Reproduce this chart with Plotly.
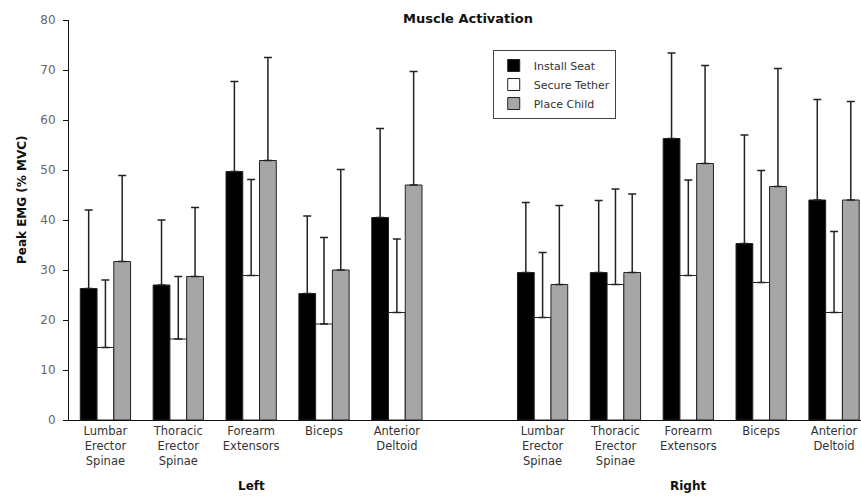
import plotly.graph_objects as go

categories = ["Lumbar<br>Erector<br>Spinae", "Thoracic<br>Erector<br>Spinae", "Forearm<br>Extensors", "Biceps", "Anterior<br>Deltoid"]
sides = ["Left", "Right"]
positions = [0, 1, 2, 3, 4, 6, 7, 8, 9, 10]
tick_labels = categories + categories

series_names = ["Install Seat", "Secure Tether", "Place Child"]
install_seat = [26.3, 27.0, 49.7, 25.3, 40.5, 29.5, 29.5, 56.3, 35.3, 44.0]
install_seat_top = [42.0, 40.0, 67.7, 40.8, 58.3, 43.5, 43.9, 73.4, 57.0, 64.1]
secure_tether = [14.5, 16.2, 28.9, 19.2, 21.5, 20.5, 27.1, 28.9, 27.5, 21.5]
secure_tether_top = [28.0, 28.7, 48.1, 36.5, 36.2, 33.5, 46.2, 48.0, 49.9, 37.7]
place_child = [31.7, 28.7, 51.9, 30.0, 47.0, 27.1, 29.5, 51.3, 46.7, 44.0]
place_child_top = [48.9, 42.5, 72.5, 50.1, 69.7, 42.9, 45.2, 70.9, 70.3, 63.7]

colors = ["#000000", "#ffffff", "#a6a6a6"]
FONT = "DejaVu Sans"

fig = go.Figure()
for name, vals, tops, col in zip(series_names,
                                 [install_seat, secure_tether, place_child],
                                 [install_seat_top, secure_tether_top, place_child_top],
                                 colors):
    fig.add_trace(go.Bar(
        name=name, x=positions, y=vals,
        marker=dict(color=col, line=dict(color="#222222", width=1)),
        error_y=dict(type="data", symmetric=False,
                     array=[t - v for t, v in zip(tops, vals)],
                     arrayminus=[0] * len(vals),
                     color="#222222", thickness=1.5, width=4),
    ))

fig.update_layout(
    width=861, height=498, autosize=False,
    margin=dict(l=69, r=0, t=20, b=78),
    paper_bgcolor="white", plot_bgcolor="white",
    barmode="group", bargap=0.31, bargroupgap=0,
    font=dict(family=FONT, size=11, color="#333333"),
    title=dict(text="<b>Muscle Activation</b>", x=468 / 861,
               xanchor="center", y=1 - 18 / 498, yanchor="middle", yref="container",
               font=dict(family=FONT, size=13, color="#111111")),
    legend=dict(x=0.535, y=0.925, xanchor="left", yanchor="top",
                bgcolor="white", bordercolor="#444444", borderwidth=1,
                font=dict(family=FONT, size=11, color="#333333"),
                itemwidth=30, tracegroupgap=0),
    showlegend=True,
)

fig.update_xaxes(range=[-0.5, 10.37], tickvals=positions, ticktext=tick_labels,
                 showline=True, linecolor="#111111", linewidth=1, ticks="",
                 showgrid=False, zeroline=False,
                 tickfont=dict(family=FONT, size=11.5, color="#333333"))
fig.update_yaxes(range=[0, 80], dtick=10, showline=True, linecolor="#111111", linewidth=1,
                 ticks="outside", ticklen=5, tickcolor="#111111", ticklabelstandoff=5,
                 showgrid=False, zeroline=False,
                 tickfont=dict(family=FONT, size=12, color="#666666"))

fig.add_annotation(text="<b>Peak EMG (% MVC)</b>", textangle=-90, xref="paper", yref="paper",
                   x=-0.0593, y=0.55, xanchor="center", yanchor="middle", showarrow=False,
                   font=dict(family=FONT, size=12, color="#111111"))
for side, xc in zip(sides, [2, 8]):
    fig.add_annotation(text="<b>" + side + "</b>", xref="x", yref="paper",
                       x=xc, y=(420 - 486) / 400, xanchor="center", yanchor="middle",
                       showarrow=False, font=dict(family=FONT, size=12, color="#111111"))

fig.write_html("out.html")
